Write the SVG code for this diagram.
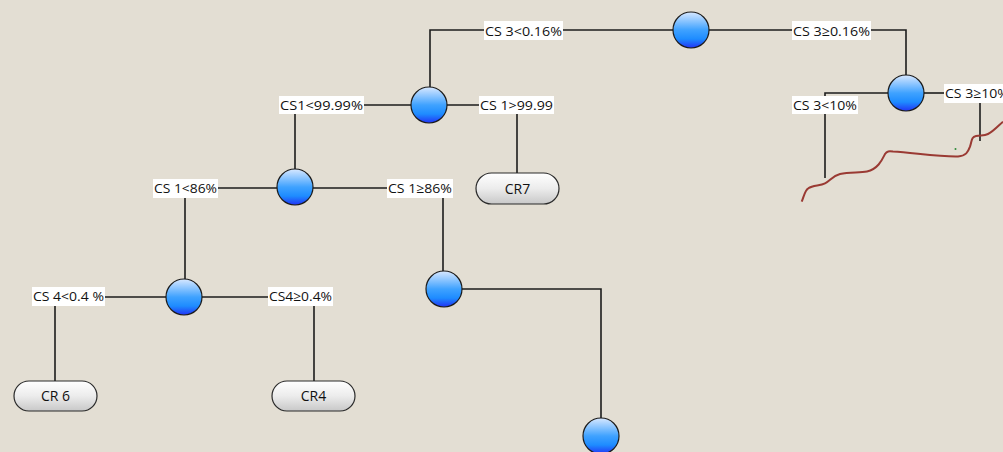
<svg xmlns="http://www.w3.org/2000/svg" width="1003" height="452" viewBox="0 0 1003 452">
  <defs>
    <linearGradient id="ball" x1="0" y1="0" x2="0" y2="1">
      <stop offset="0" stop-color="#D8E8FF"/>
      <stop offset="0.5" stop-color="#3FA2FF"/>
      <stop offset="0.75" stop-color="#1E8CFF"/>
      <stop offset="1" stop-color="#2233F5"/>
    </linearGradient>
    <linearGradient id="pill" x1="0" y1="0" x2="0" y2="1">
      <stop offset="0" stop-color="#FFFFFF"/>
      <stop offset="0.5" stop-color="#ECECEC"/>
      <stop offset="1" stop-color="#C8C8C8"/>
    </linearGradient>
    <style>
      .wire { fill: none; stroke: #1C1C1C; stroke-width: 1.6; }
      .ball { fill: url(#ball); stroke: #1C1C1C; stroke-width: 1.2; }
      .pill { fill: url(#pill); stroke: #2A2A2A; stroke-width: 1.2; }
      .tag { fill: #FFFFFF; }
      .lbl { font-family: "Open Sans", "Liberation Sans", Arial, sans-serif; font-size: 13.5px; fill: #111111; }
      .leaf { font-family: "Open Sans", "Liberation Sans", Arial, sans-serif; font-size: 14px; fill: #111111; text-anchor: middle; }
    </style>
  </defs>

  <rect width="1003" height="452" fill="#E3DED3"/>

  <!-- connectors -->
  <g id="connectors">
    <polyline class="wire" points="673,30 430,30 430,87"/>
    <polyline class="wire" points="709,30 906,30 906,75"/>
    <polyline class="wire" points="888,93 825,93 825,178"/>
    <polyline class="wire" points="924,93 946,93"/>
    <line class="wire" x1="980" y1="102" x2="980" y2="141"/>
    <polyline class="wire" points="411,105 295,105 295,169"/>
    <polyline class="wire" points="447,105 517,105 517,173"/>
    <polyline class="wire" points="277,188 185,188 185,279"/>
    <polyline class="wire" points="313,188 443,188 443,271"/>
    <polyline class="wire" points="166,297 55,297 55,381"/>
    <polyline class="wire" points="202,297 314,297 314,381"/>
    <polyline class="wire" points="462,289 601,289 601,418"/>
  </g>

  <!-- freehand stroke -->
  <path d="M801.7,201.7 C804,196 805,190 808.3,188.3 C813,185 820,186 825,183.3 C830,181 832,176 840,174 C850,172 860,173 867,171.5 C878,169 882,160 885,154 C887,151 889,151 893,151.5 C915,153 940,157 958,156.5 C966,156 968,152 970,146.7 C972,141 971,137 976,136 C981,135 984,136 988,134 C994,131 999,125 1003,121.7" fill="none" stroke="#9A3A33" stroke-width="2"/>
  <circle cx="955.5" cy="149" r="1" fill="#2E8B3A"/>

  <!-- edge labels -->
  <g id="labels">
    <rect class="tag" x="484" y="21" width="79" height="19"/>
    <text class="lbl" x="485" y="35.5" textLength="77" lengthAdjust="spacingAndGlyphs">CS 3&lt;0.16%</text>
    <rect class="tag" x="792" y="21" width="79" height="19"/>
    <text class="lbl" x="793" y="35.5" textLength="77" lengthAdjust="spacingAndGlyphs">CS 3≥0.16%</text>
    <rect class="tag" x="792" y="96" width="66" height="18"/>
    <text class="lbl" x="793" y="109.5" textLength="64" lengthAdjust="spacingAndGlyphs">CS 3&lt;10%</text>
    <rect class="tag" x="944" y="84" width="62" height="19"/>
    <text class="lbl" x="945" y="98" textLength="64" lengthAdjust="spacingAndGlyphs">CS 3≥10%</text>
    <rect class="tag" x="279" y="96" width="85" height="18"/>
    <text class="lbl" x="280" y="109.5" textLength="83" lengthAdjust="spacingAndGlyphs">CS1&lt;99.99%</text>
    <rect class="tag" x="479" y="96" width="75" height="18"/>
    <text class="lbl" x="480" y="109.5" textLength="73" lengthAdjust="spacingAndGlyphs">CS 1&gt;99.99</text>
    <rect class="tag" x="153" y="179" width="65" height="19"/>
    <text class="lbl" x="154" y="193" textLength="63" lengthAdjust="spacingAndGlyphs">CS 1&lt;86%</text>
    <rect class="tag" x="387" y="179" width="66" height="19"/>
    <text class="lbl" x="388" y="193" textLength="64" lengthAdjust="spacingAndGlyphs">CS 1≥86%</text>
    <rect class="tag" x="32" y="287" width="73" height="19"/>
    <text class="lbl" x="33" y="301" textLength="71" lengthAdjust="spacingAndGlyphs">CS 4&lt;0.4 %</text>
    <rect class="tag" x="268" y="287" width="65" height="19"/>
    <text class="lbl" x="269" y="301" textLength="63" lengthAdjust="spacingAndGlyphs">CS4≥0.4%</text>
  </g>

  <!-- decision nodes -->
  <g id="n-root"><circle class="ball" cx="691" cy="30" r="18"/></g>
  <g id="n-cs3-high"><circle class="ball" cx="906" cy="93" r="18"/></g>
  <g id="n-cs1-top"><circle class="ball" cx="429" cy="105" r="18"/></g>
  <g id="n-cs1-mid"><circle class="ball" cx="295" cy="187" r="18"/></g>
  <g id="n-cs4"><circle class="ball" cx="184" cy="297" r="18"/></g>
  <g id="n-cs1-high"><circle class="ball" cx="444" cy="289" r="18"/></g>
  <g id="n-lower"><circle class="ball" cx="601" cy="436" r="18"/></g>

  <!-- leaf nodes -->
  <g id="leaf-cr7">
    <rect class="pill" x="476" y="173" width="83" height="31" rx="15.5"/>
    <text class="leaf" x="517.5" y="193.5">CR7</text>
  </g>
  <g id="leaf-cr6">
    <rect class="pill" x="14" y="381" width="83" height="30" rx="15"/>
    <text class="leaf" x="55.5" y="401">CR 6</text>
  </g>
  <g id="leaf-cr4">
    <rect class="pill" x="272" y="381" width="83" height="30" rx="15"/>
    <text class="leaf" x="313.5" y="401">CR4</text>
  </g>
</svg>
